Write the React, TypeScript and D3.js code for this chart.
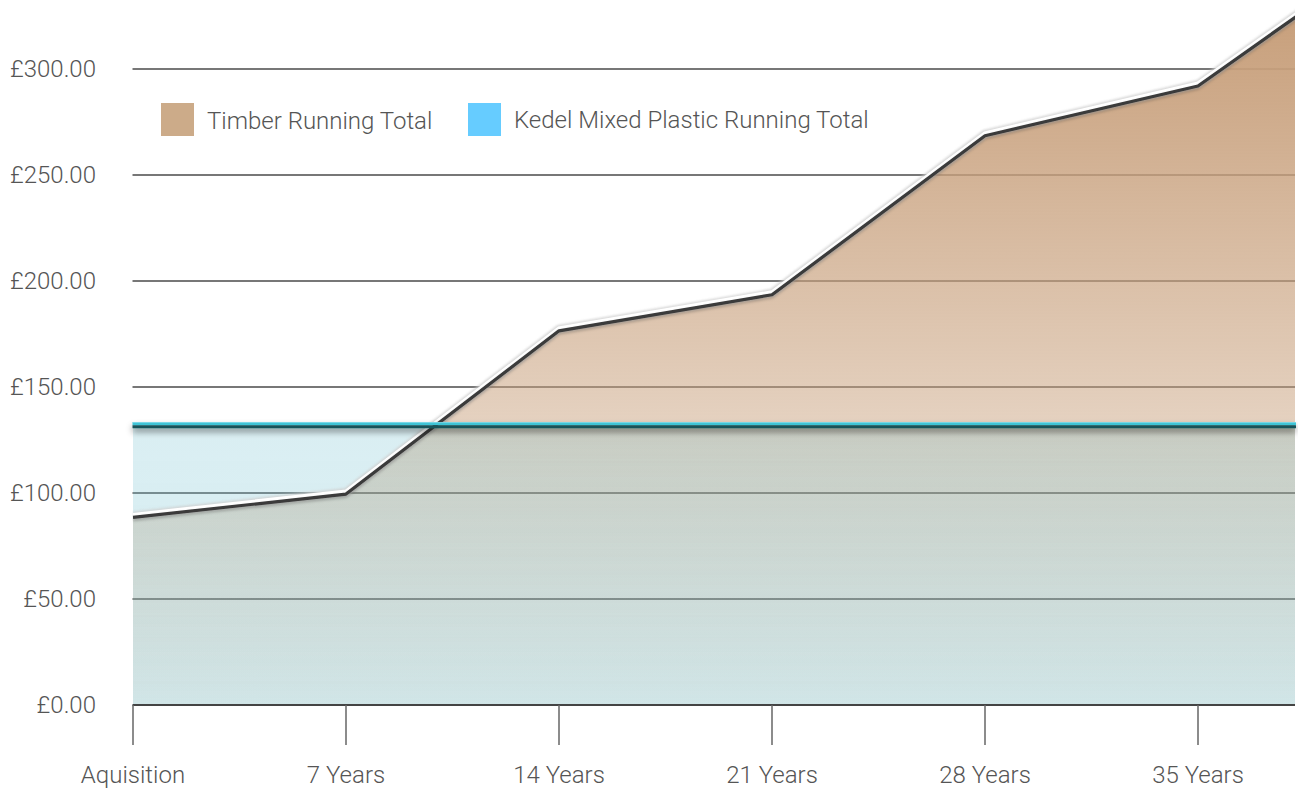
import React from "react";
import * as d3 from "d3";

const years = [0, 7, 14, 21, 28, 35, 42];
const tickLabels = ["Aquisition", "7 Years", "14 Years", "21 Years", "28 Years", "35 Years"];
const tickYears = [0, 7, 14, 21, 28, 35];
const timberValues = [88.5, 99.5, 176.5, 193.5, 268.5, 292, 363];
const plasticValues = [132, 132, 132, 132, 132, 132, 132];
const yTicks = [0, 50, 100, 150, 200, 250, 300];
const seriesNames = ["Timber Running Total", "Kedel Mixed Plastic Running Total"];

const W = 1298;
const H = 789;
const left = 132.5;
const right = 1295;
const font = "Roboto, 'Helvetica Neue', Arial, sans-serif";
const fs = 24;

export default function App() {
  const x = d3.scaleLinear().domain([0, 35]).range([133, 1198]);
  const y = d3.scaleLinear().domain([0, 300]).range([705, 69]);

  const tData = years.map((yr, i) => ({ yr, v: timberValues[i] }));
  const pData = years.map((yr, i) => ({ yr, v: plasticValues[i] }));

  const tLine = d3.line<any>().x((d) => x(d.yr)).y((d) => y(d.v))(tData) || "";
  const tArea = d3.area<any>().x((d) => x(d.yr)).y0(y(0)).y1((d) => y(d.v))(tData) || "";
  const pArea = d3.area<any>().x((d) => x(d.yr)).y0(y(0)).y1((d) => y(d.v))(pData) || "";
  const pY = y(plasticValues[0]);

  return (
    <svg width={W} height={H} style={{ position: "absolute", left: 0, top: 0, background: "#fff" }}>
      <defs>
        <clipPath id="plot">
          <rect x={left} y={0} width={right - left} height={705} />
        </clipPath>
        <linearGradient id="tGrad" gradientUnits="userSpaceOnUse" x1={0} y1={17} x2={0} y2={705}>
          <stop offset={0} stopColor="rgb(200,160,124)" stopOpacity={1} />
          <stop offset={0.593} stopColor="rgb(200,160,124)" stopOpacity={0.48} />
          <stop offset={0.61} stopColor="rgb(200,160,124)" stopOpacity={0.38} />
          <stop offset={1} stopColor="rgb(200,160,124)" stopOpacity={0.08} />
        </linearGradient>
        <linearGradient id="pGrad" gradientUnits="userSpaceOnUse" x1={0} y1={pY} x2={0} y2={705}>
          <stop offset={0} stopColor="rgb(120,195,210)" stopOpacity={0.27} />
          <stop offset={1} stopColor="rgb(120,195,210)" stopOpacity={0.32} />
        </linearGradient>
        <filter id="blur1" x="-5%" y="-20%" width="110%" height="140%">
          <feGaussianBlur stdDeviation={1.3} />
        </filter>
        <filter id="pShadow" x="-5%" y="-200%" width="110%" height="600%">
          <feDropShadow dx={0} dy={4} stdDeviation={3} floodColor="#000" floodOpacity={0.4} />
        </filter>
        <filter id="tShadow" x="-5%" y="-20%" width="110%" height="140%">
          <feDropShadow dx={0} dy={2} stdDeviation={1.5} floodColor="#000" floodOpacity={0.25} />
        </filter>
      </defs>

      {/* gridlines */}
      {yTicks.slice(1).map((t) => (
        <line key={t} x1={left} x2={right} y1={y(t)} y2={y(t)} stroke="#4a4a4a" strokeWidth={1.3} />
      ))}

      {/* y labels */}
      {yTicks.map((t) => (
        <text
          key={"yl" + t}
          x={96}
          y={y(t)}
          textAnchor="end"
          dominantBaseline="central"
          fontFamily={font}
          fontWeight={300}
          fontSize={fs}
          fill="#555"
        >
          {"£" + t.toFixed(2)}
        </text>
      ))}

      <g clipPath="url(#plot)">
        <path d={pArea} fill="url(#pGrad)" />
        <path d={tArea} fill="url(#tGrad)" style={{ mixBlendMode: "multiply" }} />
      </g>

      {/* axis baseline & ticks */}
      <line x1={left} x2={right} y1={705} y2={705} stroke="#444" strokeWidth={2} />
      {tickYears.map((t) => (
        <line key={"tk" + t} x1={x(t)} x2={x(t)} y1={705} y2={745} stroke="#666" strokeWidth={1.5} />
      ))}
      {tickYears.map((t, i) => (
        <text
          key={"xl" + t}
          x={x(t)}
          y={783}
          textAnchor="middle"
          fontFamily={font}
          fontWeight={300}
          fontSize={fs}
          fill="#555"
        >
          {tickLabels[i]}
        </text>
      ))}

      {/* timber line */}
      <g clipPath="url(#plot)">
        <path d={tLine} fill="none" stroke="#cfcfcf" strokeWidth={8} transform="translate(0,-2)" filter="url(#blur1)" opacity={0.8} />
        <path d={tLine} fill="none" stroke="#fff" strokeWidth={4} transform="translate(0,-2.5)" />
        <path d={tLine} fill="none" stroke="#3a3a3a" strokeWidth={3.2} strokeLinejoin="round" filter="url(#tShadow)" />
      </g>

      {/* plastic line */}
      <g filter="url(#pShadow)">
        <line x1={left} x2={right + 1} y1={pY - 1.5} y2={pY - 1.5} stroke="#3ec4d6" strokeWidth={3} />
        <line x1={left} x2={right + 1} y1={pY - 2.6} y2={pY - 2.6} stroke="#7fdcea" strokeWidth={0.8} />
        <line x1={left} x2={right + 1} y1={pY + 1.5} y2={pY + 1.5} stroke="#15535a" strokeWidth={3} />
      </g>

      {/* legend */}
      <rect x={161} y={103} width={33} height={33} fill="rgb(204,171,137)" />
      <text x={207} y={121} dominantBaseline="central" fontFamily={font} fontWeight={300} fontSize={fs} fill="#555">
        {seriesNames[0]}
      </text>
      <rect x={468} y={103} width={33} height={33} fill="rgb(102,204,255)" />
      <text x={514} y={120} dominantBaseline="central" fontFamily={font} fontWeight={300} fontSize={fs} fill="#555">
        {seriesNames[1]}
      </text>
    </svg>
  );
}
